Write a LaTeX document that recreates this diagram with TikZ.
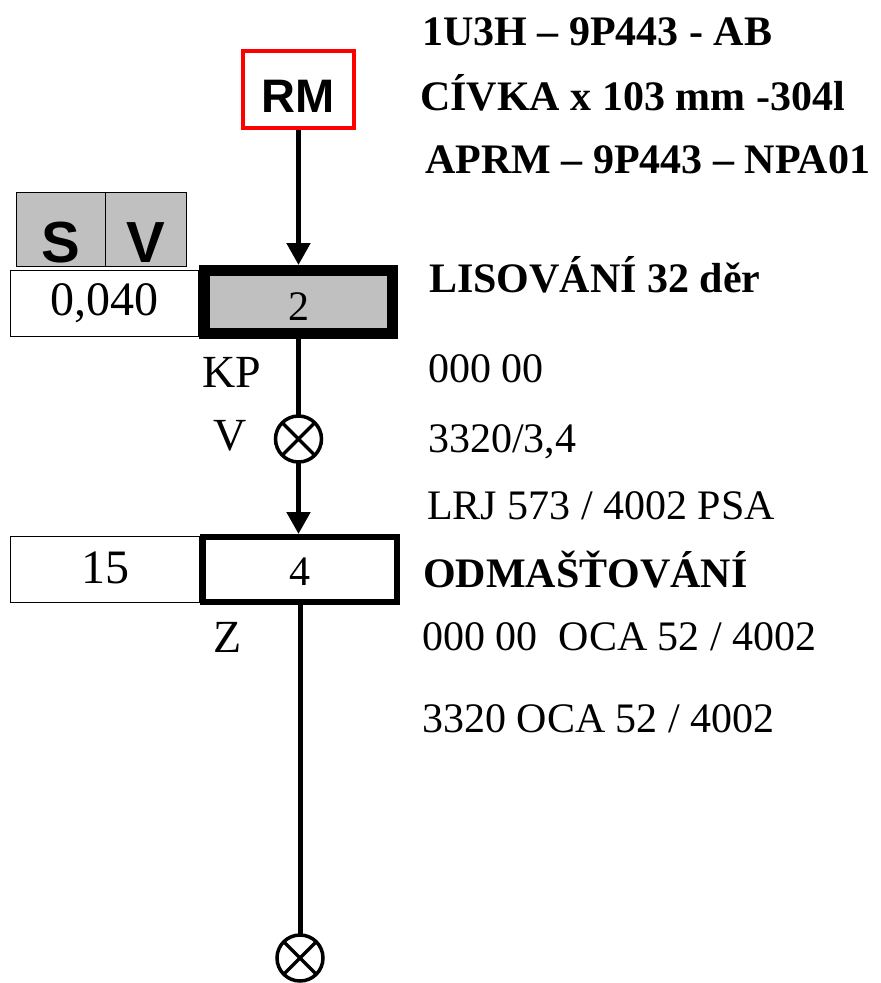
\documentclass[tikz,border=0pt]{standalone}
\usepackage{fontspec}
\setmainfont{Liberation Serif}
\setsansfont{Liberation Sans}
\usetikzlibrary{arrows.meta,positioning}
\definecolor{MarkRed}{HTML}{FF0000}
\definecolor{PanelGray}{HTML}{C0C0C0}
\newcommand{\bigfont}{\fontsize{42}{50}\selectfont}
\newcommand{\labfont}{\fontsize{46}{54}\selectfont}
\tikzset{
  rmbox/.style={draw=MarkRed, line width=4pt, minimum width=111pt, minimum height=77pt, inner sep=0pt, text height=45pt, text depth=0pt, font=\sffamily\bfseries\fontsize{47}{56}\selectfont},
  opbox/.style={draw, line width=11pt, fill=PanelGray, minimum width=188pt, minimum height=63pt, inner sep=0pt, font=\bigfont},
  washbox/.style={draw, line width=6pt, fill=white, minimum width=194pt, minimum height=65pt, inner sep=0pt, font=\bigfont},
  sidebox/.style={draw, line width=1pt, minimum height=66pt, inner sep=0pt, font=\fontsize{48}{56}\selectfont},
  svbox/.style={draw, line width=1pt, fill=PanelGray, minimum height=74pt, inner sep=0pt, text height=65pt, text depth=0pt, font=\sffamily\bfseries\fontsize{58}{66}\selectfont},
  valve/.style={circle, draw, line width=3.5pt, minimum size=46pt, inner sep=0pt, outer sep=0pt},
  infotext/.style={anchor=base west, inner sep=0pt, font=\bigfont},
  sidelabel/.style={anchor=base west, inner sep=0pt, font=\labfont},
  flow/.style={-{Triangle[length=22pt,width=23pt]}, line width=5pt},
  link/.style={line width=5pt}
}
\begin{document}
\begin{tikzpicture}[x=1pt, y=-1pt]
  \useasboundingbox (0,0) rectangle (881,983);

  % side boxes
  \node[svbox, minimum width=89pt] (sbox) at (60.5,229.5) {S};
  \node[svbox, minimum width=81pt] (vbox) at (145.5,229.5) {V};
  \node[sidebox, minimum width=188pt, text height=33pt, text depth=10pt] (thick) at (104.5,303.5) {0,040};
  \node[sidebox, minimum width=189pt, text height=27pt, text depth=0pt] (time) at (105,569.5) {15};

  % main flow
  \node[rmbox] (rm) at (298.5,89.5) {RM};
  \node[opbox, text height=36pt, text depth=0pt] (press) at (298.5,302) {2};
  \node[valve] (checkA) at (298.5,439) {};
  \node[washbox, text height=31pt, text depth=0pt] (wash) at (300,569.5) {4};
  \node[valve] (checkB) at (300,958) {};

  \draw[flow] (rm) -- (press);
  \draw[link] (press) -- (checkA);
  \draw[flow] (checkA) -- (checkA |- wash.north);
  \draw[link] (wash) -- (checkB);
  \foreach \v in {checkA, checkB}
    \draw[line width=3.5pt] (\v.45) -- (\v.225) (\v.135) -- (\v.315);

  % labels at the column
  \node[sidelabel] (kp) at (202,387) {KP};
  \node[sidelabel] (vlab) at (213,450) {V};
  \node[sidelabel] (zlab) at (213,652) {Z};

  % texts on the right
  \node[infotext, font=\bigfont\bfseries] (part) at (422,45) {1U3H – 9P443 - AB};
  \node[infotext, font=\bigfont\bfseries] (coil) at (420,110) {CÍVKA x 103 mm -304l};
  \node[infotext, font=\bigfont\bfseries] (aprm) at (425,173) {APRM – 9P443 – NPA01};
  \node[infotext, font=\bigfont\bfseries] (presstitle) at (429,292) {LISOVÁNÍ 32 děr};
  \node[infotext] (pressA) at (428,382) {000 00};
  \node[infotext] (pressB) at (428,452) {3320/3,4};
  \node[infotext] (pressC) at (427,519) {LRJ 573 / 4002 PSA};
  \node[infotext, font=\bigfont\bfseries] (washtitle) at (423,587) {ODMAŠŤOVÁNÍ};
  \node[infotext] (washA) at (422,650) {000 00~~OCA 52 / 4002};
  \node[infotext] (washB) at (422,732) {3320 OCA 52 / 4002};
\end{tikzpicture}
\end{document}
